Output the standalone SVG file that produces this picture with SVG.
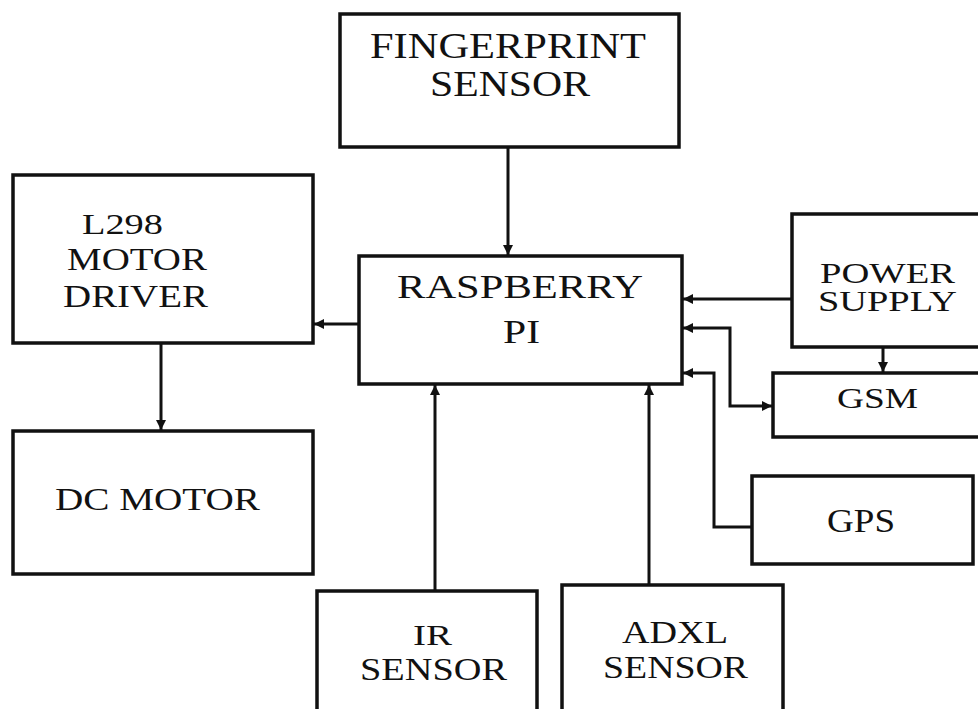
<svg xmlns="http://www.w3.org/2000/svg" width="978" height="709" viewBox="0 0 978 709">
<style>
.box{fill:#fff;stroke:#111;stroke-width:3.5}
.t{font-family:'Liberation Serif','DejaVu Serif',serif;fill:#111;font-size:30px}
.c{fill:none;stroke:#111;stroke-width:3}
</style>
<defs>
<marker id="ah" viewBox="0 0 10 10" refX="10" refY="5" markerWidth="11" markerHeight="10" markerUnits="userSpaceOnUse" orient="auto-start-reverse">
<path d="M0,0 L10,5 L0,10 z" fill="#111"/>
</marker>
</defs>
<rect width="978" height="709" fill="#fff"/>
<g id="fingerprint">
<rect class="box" x="340" y="14" width="339" height="133"/>
<text class="t" font-family="Liberation Serif, serif" x="370" y="58" style="font-size:36px" textLength="276" lengthAdjust="spacingAndGlyphs">FINGERPRINT</text>
<text class="t" font-family="Liberation Serif, serif" x="430" y="96" style="font-size:35px" textLength="160" lengthAdjust="spacingAndGlyphs">SENSOR</text>
</g>
<g id="raspberry">
<rect class="box" x="359" y="256" width="323" height="128"/>
<text class="t" x="397" y="298" style="font-size:33px" textLength="246" lengthAdjust="spacingAndGlyphs">RASPBERRY</text>
<text class="t" x="503" y="343" style="font-size:33px" textLength="37" lengthAdjust="spacingAndGlyphs">PI</text>
</g>
<g id="l298">
<rect class="box" x="13" y="175" width="300" height="168"/>
<text class="t" x="82" y="234" style="font-size:29px" textLength="81" lengthAdjust="spacingAndGlyphs">L298</text>
<text class="t" x="67" y="270" style="font-size:31px" textLength="140" lengthAdjust="spacingAndGlyphs">MOTOR</text>
<text class="t" x="63" y="307" style="font-size:31px" textLength="145" lengthAdjust="spacingAndGlyphs">DRIVER</text>
</g>
<g id="dcmotor">
<rect class="box" x="13" y="431" width="300" height="143"/>
<text class="t" x="55" y="510" style="font-size:32px" textLength="205" lengthAdjust="spacingAndGlyphs">DC MOTOR</text>
</g>
<g id="power">
<rect class="box" x="792" y="214" width="200" height="133"/>
<text class="t" x="820" y="283" style="font-size:30px" textLength="135" lengthAdjust="spacingAndGlyphs">POWER</text>
<text class="t" x="818" y="311" style="font-size:30px" textLength="139" lengthAdjust="spacingAndGlyphs">SUPPLY</text>
</g>
<g id="gsm">
<rect class="box" x="773" y="373" width="220" height="64"/>
<text class="t" x="837" y="408" style="font-size:29px" textLength="81" lengthAdjust="spacingAndGlyphs">GSM</text>
</g>
<g id="gps">
<rect class="box" x="752" y="476" width="221" height="88"/>
<text class="t" x="827" y="532" style="font-size:33px" textLength="68" lengthAdjust="spacingAndGlyphs">GPS</text>
</g>
<g id="ir">
<rect class="box" x="317" y="591" width="220" height="130"/>
<text class="t" x="413" y="645" style="font-size:30px" textLength="39" lengthAdjust="spacingAndGlyphs">IR</text>
<text class="t" x="360" y="680" style="font-size:32px" textLength="147" lengthAdjust="spacingAndGlyphs">SENSOR</text>
</g>
<g id="adxl">
<rect class="box" x="562" y="585" width="221" height="136"/>
<text class="t" x="622" y="643" style="font-size:31px" textLength="106" lengthAdjust="spacingAndGlyphs">ADXL</text>
<text class="t" x="603" y="678" style="font-size:32px" textLength="145" lengthAdjust="spacingAndGlyphs">SENSOR</text>
</g>
<g id="connectors">
<line class="c" x1="508" y1="147" x2="508" y2="255" marker-end="url(#ah)"/>
<line class="c" x1="359" y1="324" x2="314" y2="324" marker-end="url(#ah)"/>
<line class="c" x1="161" y1="343" x2="161" y2="430" marker-end="url(#ah)"/>
<line class="c" x1="792" y1="299" x2="683" y2="299" marker-end="url(#ah)"/>
<line class="c" x1="883" y1="347" x2="883" y2="372" marker-end="url(#ah)"/>
<polyline class="c" points="683,328 730,328 730,406 772,406" marker-start="url(#ah)" marker-end="url(#ah)"/>
<polyline class="c" points="752,527 714,527 714,373 683,373" marker-end="url(#ah)"/>
<line class="c" x1="435" y1="591" x2="435" y2="385" marker-end="url(#ah)"/>
<line class="c" x1="649" y1="585" x2="649" y2="385" marker-end="url(#ah)"/>
</g>
</svg>
